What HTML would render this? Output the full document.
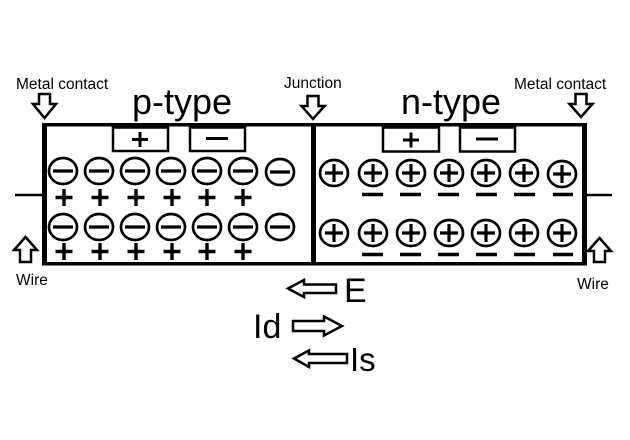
<!DOCTYPE html>
<html>
<head>
<meta charset="utf-8">
<style>
  html, body { margin: 0; padding: 0; background: #fff; }
  svg { display: block; }
  text { font-family: "Liberation Sans", Arial, sans-serif; fill: #000; }
</style>
</head>
<body>
<svg width="630" height="440" viewBox="0 0 630 440" xmlns="http://www.w3.org/2000/svg">
  <rect x="0" y="0" width="630" height="440" fill="#fff"/>

  <!-- Labels -->
  <text x="16" y="89" font-size="15.5">Metal contact</text>
  <text x="284" y="88" font-size="15.5">Junction</text>
  <text x="514" y="89" font-size="15.5">Metal contact</text>
  <text x="16" y="285" font-size="15.5">Wire</text>
  <text x="577" y="289" font-size="15.5">Wire</text>
  <text x="132" y="114" font-size="36">p-type</text>
  <text x="401" y="114" font-size="36">n-type</text>

  <!-- Down/up hollow arrows -->
  <g fill="#fff" stroke="#000" stroke-width="2.5" stroke-linejoin="miter">
    <polygon points="39,94 50,94 50,104 56,104 44.5,118 33,104 39,104"/>
    <polygon points="307.5,96 318.5,96 318.5,106 324.5,106 313,119 301.5,106 307.5,106"/>
    <polygon points="575.5,94 586.5,94 586.5,104 592.5,104 581,117 569.5,104 575.5,104"/>
    <polygon points="25.5,237 37,250 31,250 31,262 20,262 20,250 14,250"/>
    <polygon points="599.5,238 611,251 605,251 605,262 594,262 594,251 588,251"/>
  </g>

  <!-- Wires -->
  <line x1="15" y1="195" x2="44" y2="195" stroke="#000" stroke-width="2.5"/>
  <line x1="585" y1="195" x2="612" y2="195" stroke="#000" stroke-width="2.5"/>

  <!-- Main box -->
  <rect x="42" y="123" width="545" height="3.5" fill="#000"/>
  <rect x="42" y="262" width="545" height="3.5" fill="#000"/>
  <rect x="42" y="123" width="5" height="142.5" fill="#000"/>
  <rect x="311" y="123" width="5" height="142.5" fill="#000"/>
  <rect x="582" y="123" width="5" height="142.5" fill="#000"/>

  <!-- +/- boxes -->
  <g fill="none" stroke="#000" stroke-width="2.5">
    <rect x="113" y="127.5" width="55" height="23.5"/>
    <rect x="190" y="127.5" width="55" height="23.5"/>
    <rect x="383" y="127.5" width="56" height="24"/>
    <rect x="460" y="127.5" width="55" height="24"/>
  </g>
  <g stroke="#000" stroke-width="3">
    <line x1="132" y1="139.5" x2="148" y2="139.5"/>
    <line x1="140" y1="132" x2="140" y2="147"/>
    <line x1="206" y1="138.5" x2="228" y2="138.5"/>
    <line x1="403" y1="140" x2="419" y2="140"/>
    <line x1="411" y1="132.5" x2="411" y2="147.5"/>
    <line x1="476" y1="139" x2="498" y2="139"/>
  </g>

  <!-- p-type negative ions -->
  <g fill="none" stroke="#000" stroke-width="2.7">
    <ellipse cx="63" cy="171" rx="14" ry="13"/>
    <ellipse cx="99" cy="171" rx="14" ry="13"/>
    <ellipse cx="135" cy="171" rx="14" ry="13"/>
    <ellipse cx="171" cy="171" rx="14" ry="13"/>
    <ellipse cx="207" cy="171" rx="14" ry="13"/>
    <ellipse cx="243" cy="171" rx="14" ry="13"/>
    <ellipse cx="280" cy="172" rx="14" ry="13"/>
    <ellipse cx="63" cy="227" rx="14" ry="13"/>
    <ellipse cx="99" cy="227" rx="14" ry="13"/>
    <ellipse cx="135" cy="227" rx="14" ry="13"/>
    <ellipse cx="171" cy="227" rx="14" ry="13"/>
    <ellipse cx="207" cy="227" rx="14" ry="13"/>
    <ellipse cx="243" cy="227" rx="14" ry="13"/>
    <ellipse cx="280" cy="227" rx="14" ry="13"/>
  </g>
  <g stroke="#000" stroke-width="3.2">
    <line x1="53" y1="171" x2="73" y2="171"/>
    <line x1="89" y1="171" x2="109" y2="171"/>
    <line x1="125" y1="171" x2="145" y2="171"/>
    <line x1="161" y1="171" x2="181" y2="171"/>
    <line x1="197" y1="171" x2="217" y2="171"/>
    <line x1="233" y1="171" x2="253" y2="171"/>
    <line x1="270" y1="172" x2="290" y2="172"/>
    <line x1="53" y1="227" x2="73" y2="227"/>
    <line x1="89" y1="227" x2="109" y2="227"/>
    <line x1="125" y1="227" x2="145" y2="227"/>
    <line x1="161" y1="227" x2="181" y2="227"/>
    <line x1="197" y1="227" x2="217" y2="227"/>
    <line x1="233" y1="227" x2="253" y2="227"/>
    <line x1="270" y1="227" x2="290" y2="227"/>
  </g>
  <!-- p-type holes (+) -->
  <g stroke="#000" stroke-width="3.4">
    <path d="M55.5 197.5h17M64 189v17"/>
    <path d="M91.5 197.5h17M100 189v17"/>
    <path d="M127.5 197.5h17M136 189v17"/>
    <path d="M163.5 197.5h17M172 189v17"/>
    <path d="M198.5 197.5h17M207 189v17"/>
    <path d="M234.5 197.5h17M243 189v17"/>
    <path d="M55.5 251.5h17M64 243v17"/>
    <path d="M91.5 251.5h17M100 243v17"/>
    <path d="M127.5 251.5h17M136 243v17"/>
    <path d="M163.5 251.5h17M172 243v17"/>
    <path d="M198.5 251.5h17M207 243v17"/>
    <path d="M234.5 251.5h17M243 243v17"/>
  </g>

  <!-- n-type positive ions -->
  <g fill="none" stroke="#000" stroke-width="2.7">
    <ellipse cx="334" cy="173" rx="14" ry="13"/>
    <ellipse cx="373" cy="173" rx="14" ry="13"/>
    <ellipse cx="411" cy="173" rx="14" ry="13"/>
    <ellipse cx="449" cy="173" rx="14" ry="13"/>
    <ellipse cx="486" cy="173" rx="14" ry="13"/>
    <ellipse cx="524" cy="173" rx="14" ry="13"/>
    <ellipse cx="562" cy="174" rx="14" ry="13"/>
    <ellipse cx="334" cy="233" rx="14" ry="13"/>
    <ellipse cx="373" cy="233" rx="14" ry="13"/>
    <ellipse cx="411" cy="233" rx="14" ry="13"/>
    <ellipse cx="449" cy="233" rx="14" ry="13"/>
    <ellipse cx="486" cy="233" rx="14" ry="13"/>
    <ellipse cx="524" cy="233" rx="14" ry="13"/>
    <ellipse cx="562" cy="233" rx="14" ry="13"/>
  </g>
  <g stroke="#000" stroke-width="3.2">
    <path d="M325 173h18M334 164v18"/>
    <path d="M364 173h18M373 164v18"/>
    <path d="M402 173h18M411 164v18"/>
    <path d="M440 173h18M449 164v18"/>
    <path d="M477 173h18M486 164v18"/>
    <path d="M515 173h18M524 164v18"/>
    <path d="M553 174h18M562 165v18"/>
    <path d="M325 233h18M334 224v18"/>
    <path d="M364 233h18M373 224v18"/>
    <path d="M402 233h18M411 224v18"/>
    <path d="M440 233h18M449 224v18"/>
    <path d="M477 233h18M486 224v18"/>
    <path d="M515 233h18M524 224v18"/>
    <path d="M553 233h18M562 224v18"/>
  </g>
  <!-- n-type electrons (-) -->
  <g stroke="#000" stroke-width="3.4">
    <line x1="362" y1="194.5" x2="383" y2="194.5"/>
    <line x1="400" y1="194.5" x2="421" y2="194.5"/>
    <line x1="438" y1="194.5" x2="459" y2="194.5"/>
    <line x1="476" y1="194.5" x2="497" y2="194.5"/>
    <line x1="514" y1="194.5" x2="535" y2="194.5"/>
    <line x1="553" y1="194.5" x2="573" y2="194.5"/>
    <line x1="362" y1="254.5" x2="383" y2="254.5"/>
    <line x1="400" y1="254.5" x2="421" y2="254.5"/>
    <line x1="438" y1="254.5" x2="459" y2="254.5"/>
    <line x1="476" y1="254.5" x2="497" y2="254.5"/>
    <line x1="514" y1="254.5" x2="535" y2="254.5"/>
    <line x1="553" y1="254.5" x2="573" y2="254.5"/>
  </g>

  <!-- Bottom arrows -->
  <g fill="#fff" stroke="#000" stroke-width="2.5" stroke-linejoin="miter">
    <polygon points="288,288.5 304,280 304,284.5 336,284.5 336,293 304,293 304,297"/>
    <polygon points="293,321 324,321 324,316.5 342,326 324,335.5 324,331 293,331"/>
    <polygon points="294,358.5 309,350.5 309,354 347,354 347,363 309,363 309,367"/>
  </g>
  <text x="344" y="302" font-size="34">E</text>
  <text x="253" y="338" font-size="34">Id</text>
  <text x="350" y="371" font-size="33">Is</text>
</svg>
</body>
</html>
